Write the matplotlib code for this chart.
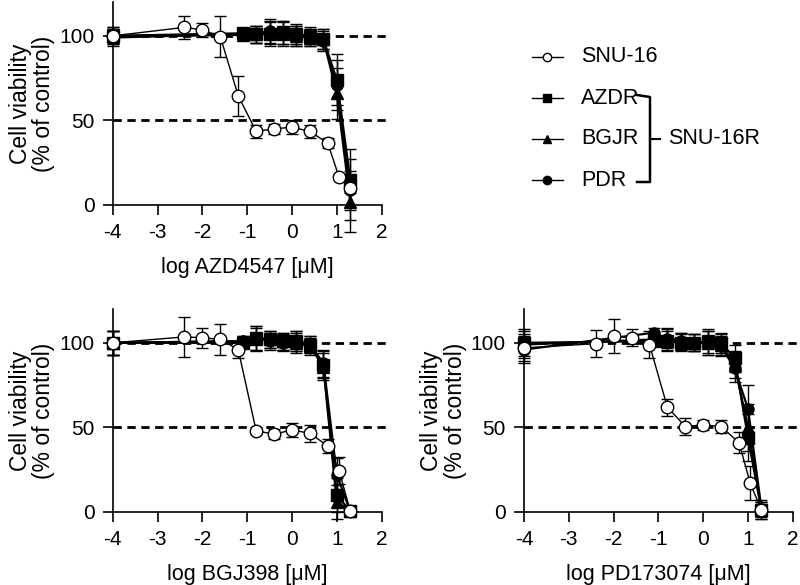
import numpy as np
import matplotlib
matplotlib.use("Agg")
import matplotlib.pyplot as plt

plt.rcParams['font.family'] = ['Liberation Sans', 'DejaVu Sans']
plt.rcParams['font.size'] = 15
plt.rcParams['axes.unicode_minus'] = False

# concentrations (log uM); first point is the untreated control
snu_x = [-4, -2.4, -2.0, -1.6, -1.2, -0.8, -0.4, 0.0, 0.4, 0.8, 1.05, 1.3]
res_x = [-4, -1.1, -0.8, -0.5, -0.2, 0.1, 0.4, 0.7, 1.0, 1.3]

# AZD4547
azd_snu = [100, 105, 103.5, 99.5, 64.5, 43.5, 45, 46, 43.5, 36.5, 16.5, 10]
azd_snu_err = [4, 7, 4, 12, 12, 4, 3, 4, 4, 3, 1, 3]
azd_azdr = [100, 101.5, 101, 101, 102, 101, 100, 98, 74, 15]
azd_bgjr = [100, 100.5, 101, 102, 101, 100, 99, 98, 66, 2]
azd_pdr = [99, 101, 101, 103, 102, 100, 99, 97, 71, 9]
azd_res_err = [5, 2, 5, 7, 7, 6, 5, 6, 15, 18]

# BGJ398
bgj_snu = [100, 103.5, 103, 102, 96, 48, 46, 48.5, 46.5, 39, 24.5, 0.5]
bgj_snu_err = [7, 12, 6, 9, 5, 2, 3, 4, 5, 4, 8, 1]
bgj_azdr = [100, 100, 103, 102, 101, 101, 99, 87, 10, 0.5]
bgj_bgjr = [100, 101, 102, 102, 101, 100, 98, 86, 6, 0.5]
bgj_pdr = [100, 101, 103, 101, 100, 101, 99, 88, 22, 0.5]
bgj_res_err = [7, 3, 7, 5, 5, 6, 5, 8, 10, 1]

# PD173074
pd_snu = [97, 99.5, 104, 103, 99, 62, 50.5, 51.5, 50.5, 41, 17, 1]
pd_snu_err = [8, 8, 10, 5, 8, 5, 5, 3, 4, 6, 10, 2]
pd_azdr = [100, 101, 101, 100, 100, 101, 100, 91, 44, 1]
pd_bgjr = [99, 102, 103, 101, 100, 100, 99, 87, 50, 1]
pd_pdr = [96, 106, 102, 101, 100, 100, 98, 85, 61, 2]
pd_res_err = [8, 3, 6, 5, 5, 7, 6, 8, 14, 5]

drugs = ['AZD4547', 'BGJ398', 'PD173074']
labels = ['SNU-16', 'AZDR', 'BGJR', 'PDR']

fig = plt.figure(figsize=(8, 5.85), dpi=100)
ax1 = fig.add_axes([0.141, 0.6496, 0.336, 0.347])
ax2 = fig.add_axes([0.141, 0.1248, 0.336, 0.347])
ax3 = fig.add_axes([0.655, 0.1248, 0.336, 0.347])

panels = [
    (ax1, drugs[0], azd_snu, azd_snu_err, [azd_azdr, azd_bgjr, azd_pdr], azd_res_err),
    (ax2, drugs[1], bgj_snu, bgj_snu_err, [bgj_azdr, bgj_bgjr, bgj_pdr], bgj_res_err),
    (ax3, drugs[2], pd_snu, pd_snu_err, [pd_azdr, pd_bgjr, pd_pdr], pd_res_err),
]

res_markers = ['s', '^', 'o']

for ax, drug, sy, se, res, re in panels:
    for h in [50, 100]:
        ax.plot([-4, 2.1], [h, h], color='k', lw=2, ls=(0, (3, 2)), zorder=1, clip_on=False)
    for ry, m in zip(res, res_markers):
        ax.errorbar(res_x, ry, yerr=re, color='k', marker=m, ms=8, mfc='k',
                    lw=1.6, elinewidth=1, capsize=4, capthick=1, zorder=3, clip_on=False)
    ax.errorbar(snu_x, sy, yerr=se, color='k', marker='o', ms=9, mfc='white',
                mec='k', mew=1, lw=1, elinewidth=1, capsize=4, capthick=1, zorder=4, clip_on=False)
    ax.set_xlim(-4, 2)
    ax.set_ylim(0, 120)
    ax.set_xticks(range(-4, 3))
    ax.set_yticks([0, 50, 100])
    ax.spines['top'].set_visible(False)
    ax.spines['right'].set_visible(False)
    ax.spines['left'].set_linewidth(1.2)
    ax.spines['bottom'].set_linewidth(1.2)
    ax.tick_params(direction='out', length=7, width=1.2, labelsize=15, pad=6)
    ax.set_xlabel('log ' + drug + ' [\u03bcM]', fontsize=15.5, labelpad=11)
    ax.set_ylabel('Cell viability\n(% of control)', fontsize=16.5, labelpad=3, linespacing=1.05)

# legend with bracket, drawn in pixel coordinates
lg = fig.add_axes([0, 0, 1, 1])
lg.set_xlim(0, 800)
lg.set_ylim(585, 0)
lg.axis('off')
leg_markers = ['o', 's', '^', 'o']
leg_fill = ['white', 'k', 'k', 'k']
for i, (lab, m, fc) in enumerate(zip(labels, leg_markers, leg_fill)):
    yy = 57 + 41 * i
    lg.plot([532, 563], [yy, yy], color='k', lw=1)
    lg.plot([547], [yy], marker=m, ms=6, mfc=fc, mec='k', color='k')
    lg.text(581, yy, lab, va='center', ha='left', fontsize=15.5)
lg.plot([637, 650, 650, 637], [95, 97, 182, 182], color='k', lw=1.8)
lg.plot([650, 660], [139, 139], color='k', lw=1.5)
lg.text(668, 139, 'SNU-16R', va='center', ha='left', fontsize=15.5)

fig.savefig('out.png', dpi=100)
